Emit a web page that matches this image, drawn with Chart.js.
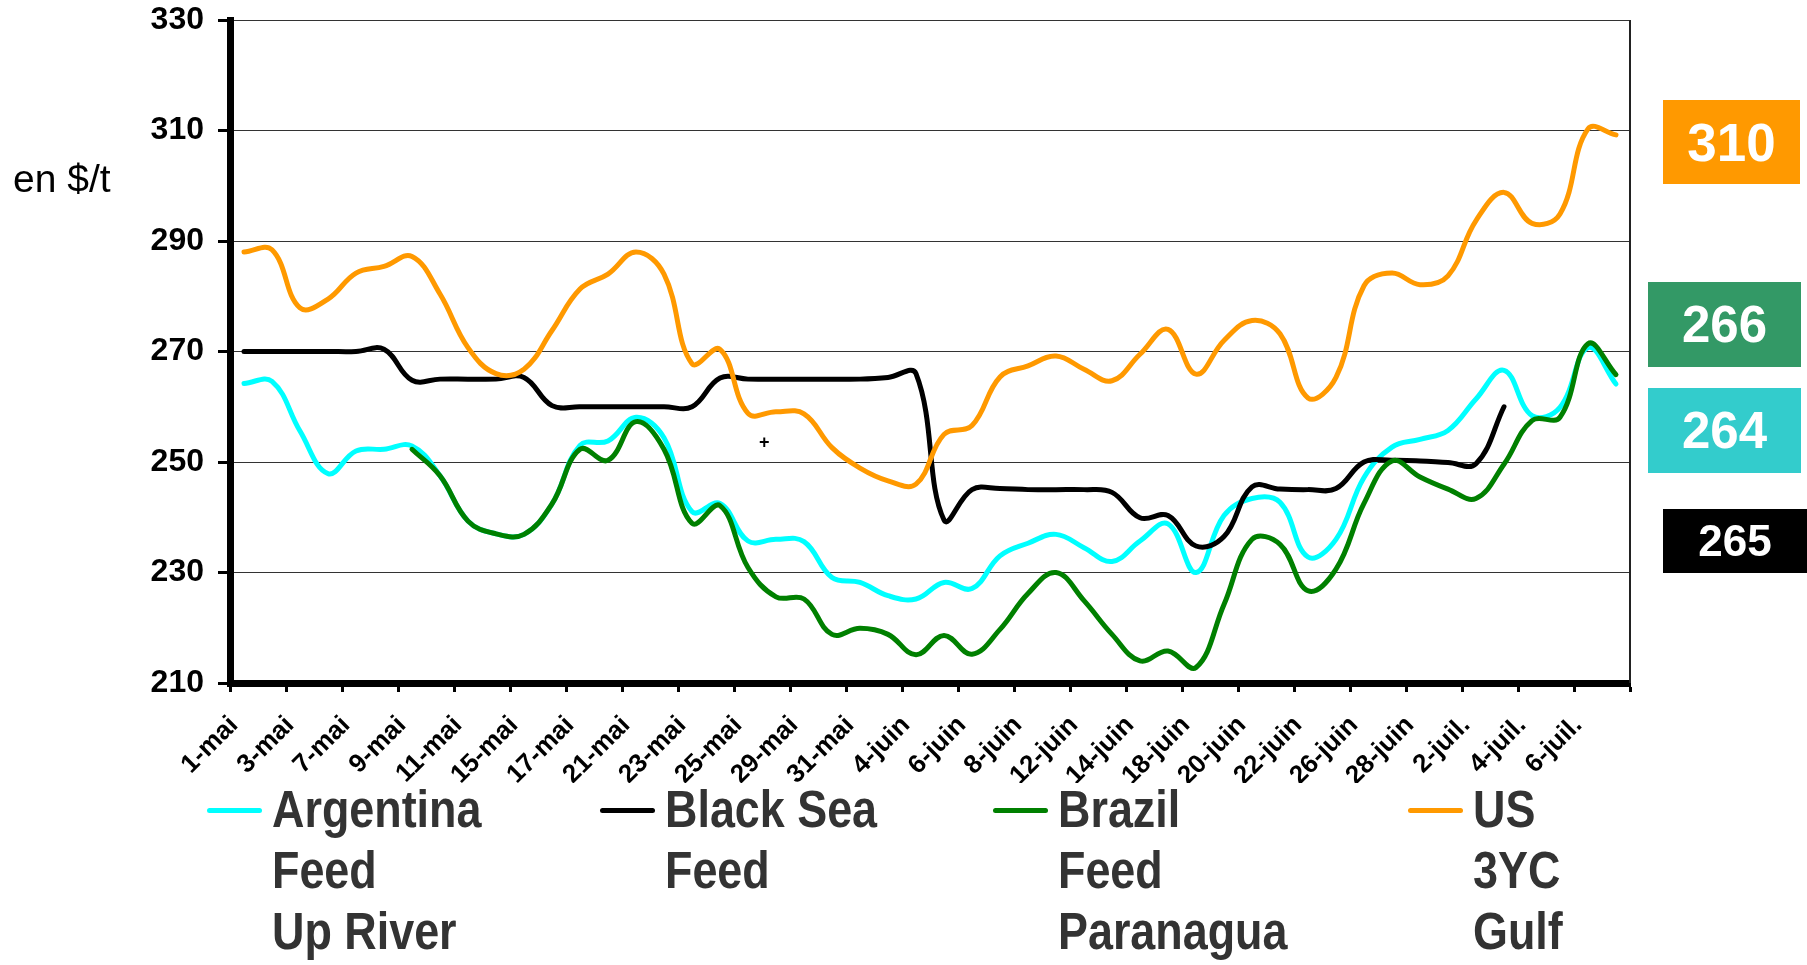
<!DOCTYPE html>
<html>
<head>
<meta charset="utf-8">
<script src="https://cdn.jsdelivr.net/npm/chart.js@4.4.1/dist/chart.umd.min.js"></script>
<style>
  body { margin: 0; background: #fff; }
  #wrap { position: relative; width: 1807px; height: 965px; overflow: hidden; font-family: "Liberation Sans", Arial, sans-serif; }
  #prix { position: absolute; left: 0; top: 0; }
  #unit { position: absolute; left: 13px; top: 159px; font-size: 39px; line-height: 39px; color: #000; }
  #plus { position: absolute; left: 759px; top: 432px; font-size: 18px; font-weight: bold; line-height: 20px; }
  .lg { position: absolute; top: 779px; }
  .lg .sw { position: absolute; left: 0; top: 29px; width: 55px; height: 5px; border-radius: 3px; }
  .lg .tx { position: absolute; left: 65px; top: 0; white-space: pre; font-family: "Liberation Sans Narrow", "Arial Narrow", "Liberation Sans", sans-serif; font-weight: bold; font-size: 51px; line-height: 61px; color: #333; transform: scaleX(0.88); transform-origin: 0 0; }
  .box { position: absolute; display: flex; align-items: center; justify-content: center; color: #fff; font-weight: bold; }
</style>
</head>
<body>
<div id="wrap">
  <canvas id="prix" width="1807" height="965"></canvas>
  <div id="unit">en $/t</div>
  <div id="plus">+</div>
  <div id="legend"></div>
  <div id="boxes"></div>
</div>
<script>
// jours ouvrés du 1-mai au 9-juil.
const days = ['1-mai','2-mai','3-mai','4-mai','7-mai','8-mai','9-mai','10-mai','11-mai','14-mai',
  '15-mai','16-mai','17-mai','18-mai','21-mai','22-mai','23-mai','24-mai','25-mai','28-mai',
  '29-mai','30-mai','31-mai','1-juin','4-juin','5-juin','6-juin','7-juin','8-juin','11-juin',
  '12-juin','13-juin','14-juin','15-juin','18-juin','19-juin','20-juin','21-juin','22-juin','25-juin',
  '26-juin','27-juin','28-juin','29-juin','2-juil.','3-juil.','4-juil.','5-juil.','6-juil.','9-juil.'];

const argentina = [264.2,264.6,255.6,247.9,252.0,252.3,252.9,247.5,239.3,237.0,
  236.9,242.4,253.0,253.8,258.1,254.4,241.0,242.5,235.7,236.0,
  235.6,229.1,228.2,225.8,225.2,228.2,227.1,233.0,235.3,236.9,
  234.5,232.0,235.7,238.8,230.0,240.3,243.4,242.7,232.8,236.0,
  247.2,252.7,254.1,255.7,261.4,266.6,258.4,259.9,270.7,264.1];

const blackSea = [270,270,270,270,270,270.4,264.8,265,265,265,
  265.3,260.2,260,260,260,260,260,265.2,265,265,
  265,265,265,265.3,266,239.5,245,245.2,245,245,
  245,244.5,239.9,240.3,234.8,236.5,245.5,245.1,245.0,245.2,
  250.0,250.3,250.2,249.9,249.7,260.0,null,null,null,null];

const brazil = [null,null,null,null,null,null,252.3,247.5,239.3,237.0,
  236.9,242.4,252.3,250.3,257.3,252.3,238.9,242.1,230.9,225.6,
  225.2,218.8,219.9,218.8,215.1,218.6,215.2,219.7,226.2,230.0,
  224.9,218.8,214.0,215.8,212.8,224.2,236.0,235.1,226.7,230.6,
  242.5,250.2,247.3,245.1,243.4,249.6,257.5,258.1,271.4,265.8];

const usGulf = [288.0,288.4,277.9,279.5,284.2,285.4,287.2,280.4,270.7,266.0,
  266.8,273.8,281.3,284.0,288.0,284.0,267.8,270.4,258.8,259.1,
  258.7,252.6,248.9,246.6,246.0,255.0,256.6,265.4,267.4,269.2,
  266.8,264.7,269.5,274.0,265.9,272.0,275.6,273.2,261.6,265.3,
  281.9,284.2,282.1,283.7,293.7,298.8,293.2,294.9,310.3,309.2];

const seriesNames = ['Argentina\nFeed\nUp River', 'Black Sea\nFeed', 'Brazil\nFeed\nParanagua', 'US\n3YC\nGulf'];
const seriesColors = ['#00FFFF', '#000000', '#008000', '#FF9900'];
const yTicks = [210, 330, 20]; // min, max, pas

// valeurs affichées à droite du graphique
const boxValues = ['310', '266', '264', '265'];
const boxColors = ['#FF9900', '#339966', '#33CCCC', '#000000'];

const rightBorder = {
  id: 'rightBorder',
  afterDraw(chart) {
    const c = chart.ctx, a = chart.chartArea;
    c.save();
    c.strokeStyle = '#222';
    c.lineWidth = 2;
    c.beginPath();
    c.moveTo(a.right, a.top);
    c.lineTo(a.right, a.bottom);
    c.stroke();
    c.restore();
  }
};

const evenTick = ctx => (ctx.index === undefined || ctx.index % 2 === 0) ? '#000' : 'rgba(0,0,0,0)';

const ctx = document.getElementById('prix').getContext('2d');
const config = {
  type: 'line',
  data: {
    labels: days,
    datasets: [argentina, blackSea, brazil, usGulf].map((d, i) => ({
      label: seriesNames[i],
      data: d,
      borderColor: seriesColors[i],
      backgroundColor: seriesColors[i],
      order: 4 - i
    }))
  },
  options: {
    responsive: false,
    animation: false,
    layout: { padding: { top: 20, right: 177, bottom: 182, left: 0 } },
    plugins: { legend: { display: false }, tooltip: { enabled: false } },
    elements: {
      point: { radius: 0 },
      line: { tension: 0.4, borderWidth: 5, borderCapStyle: 'round', borderJoinStyle: 'round' }
    },
    scales: {
      x: {
        offset: true,
        grid: { offset: true, drawOnChartArea: false, tickLength: 9, tickWidth: 3, color: evenTick, tickColor: evenTick },
        border: { color: '#000', width: 7 },
        ticks: {
          autoSkip: false, minRotation: 45, maxRotation: 45, labelOffset: -10, padding: 18,
          color: '#000', font: { family: 'Liberation Sans', weight: 'bold', size: 26 },
          callback: function (v, i) { return i % 2 === 0 ? this.getLabelForValue(v) : ''; }
        },
        afterFit: s => { s.height = 100; s.paddingLeft = 0; s.paddingRight = 0; }
      },
      y: {
        min: yTicks[0], max: yTicks[1],
        grid: { color: '#333', lineWidth: 1, tickLength: 12, tickWidth: 3, tickColor: '#000' },
        border: { color: '#000', width: 7 },
        ticks: { stepSize: yTicks[2], padding: 14, color: '#000', font: { family: 'Liberation Sans', weight: 'bold', size: 32 } },
        afterFit: s => { s.width = 230; s.paddingTop = 0; s.paddingBottom = 0; }
      }
    }
  },
  plugins: [rightBorder]
};
const prix = new Chart(ctx, config);

// légende en HTML, tirée des datasets
const legendPos = [207, 600, 993, 1408];
var legendHtml = '';
prix.data.datasets.forEach((ds, i) => {
  legendHtml += '<div class="lg" style="left:' + legendPos[i] + 'px"><div class="sw" style="background:' + ds.borderColor + '"></div><div class="tx">' + ds.label + '</div></div>';
});
document.getElementById('legend').innerHTML = legendHtml;

// encadrés de droite
const boxGeom = [[1663, 100, 137, 84, 53], [1648, 282, 153, 85, 51], [1648, 388, 153, 85, 51], [1663, 509, 144, 64, 44]];
var boxHtml = '';
boxValues.forEach((v, i) => {
  const g = boxGeom[i];
  boxHtml += '<div class="box" style="left:' + g[0] + 'px;top:' + g[1] + 'px;width:' + g[2] + 'px;height:' + g[3] + 'px;font-size:' + g[4] + 'px;background:' + boxColors[i] + '">' + v + '</div>';
});
document.getElementById('boxes').innerHTML = boxHtml;
</script>
</body>
</html>
